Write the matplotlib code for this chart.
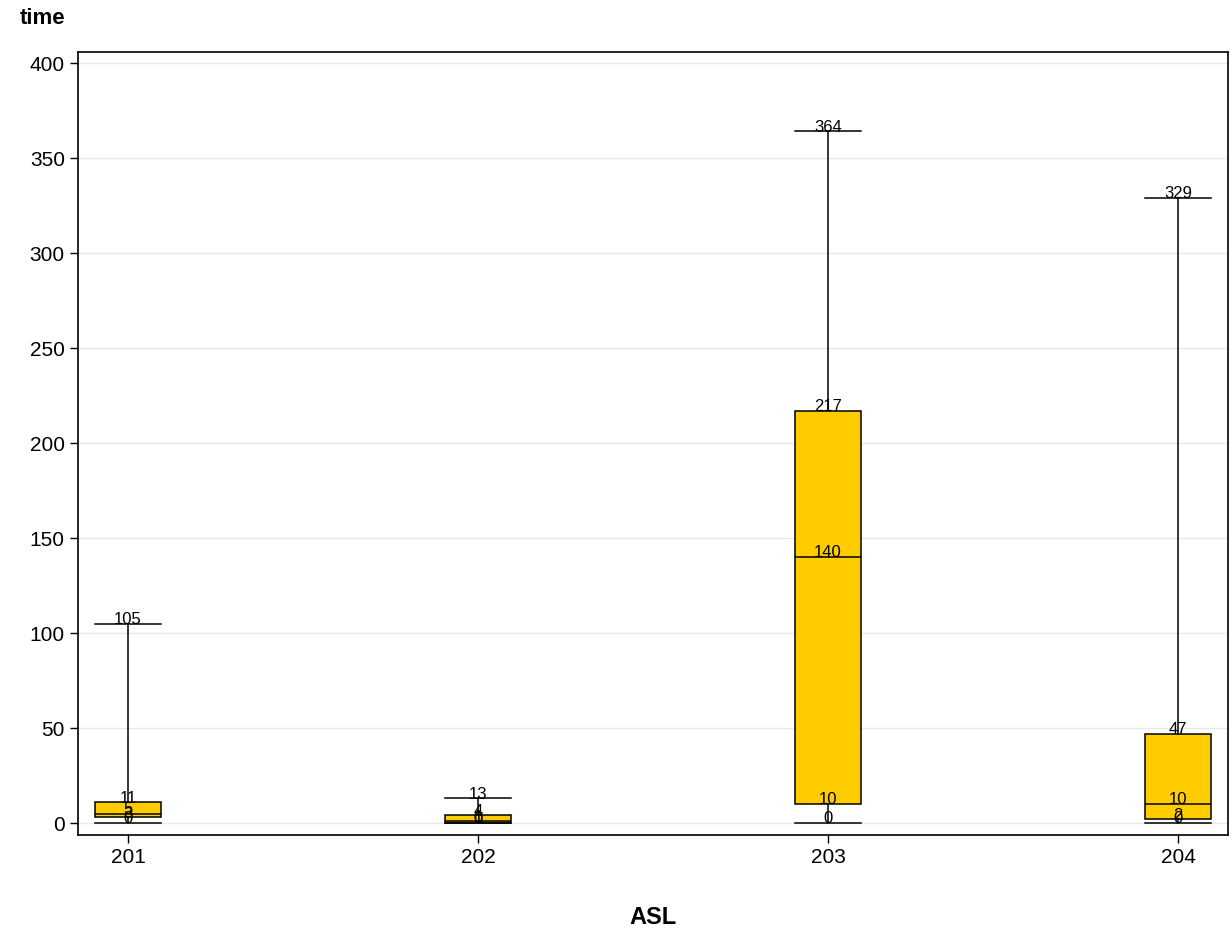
import numpy as np
import matplotlib
matplotlib.use('Agg')
from matplotlib import pyplot as plt

# ---DATA--- #
groups = ['201', '202', '203', '204']
mins = [0, 0, 0, 0]
q1s = [3, 0, 10, 2]
medians = [5, 1, 140, 10]
q3s = [11, 4, 217, 47]
maxs = [105, 13, 364, 329]

plt.rcParams['font.family'] = ['Liberation Sans', 'DejaVu Sans']

fig = plt.figure(figsize=(12.32, 9.33), dpi=100)
ax = fig.add_axes([78 / 1232, 1 - 835 / 933, 1150 / 1232, 783 / 933])

stats = []
for g, lo, a, m, b, hi in zip(groups, mins, q1s, medians, q3s, maxs):
    stats.append(dict(label=g, whislo=lo, q1=a, med=m, q3=b, whishi=hi, fliers=[]))

pos = np.arange(len(groups))
ax.bxp(stats, positions=pos, widths=0.186, patch_artist=True, showfliers=False,
       boxprops=dict(facecolor='#ffcc00', edgecolor='black', linewidth=1.1),
       medianprops=dict(color='black', linewidth=1.1),
       whiskerprops=dict(color='black', linewidth=1.1),
       capprops=dict(color='black', linewidth=1.1),
       capwidths=0.186, zorder=3)

# value labels
for i in range(len(groups)):
    for v in (mins[i], q1s[i], medians[i], q3s[i], maxs[i]):
        ax.text(pos[i], v - 1.8, str(v), ha='center', va='bottom', fontsize=12,
                color='black', zorder=4)

ax.set_xlim(-1 / 7, 3 + 1 / 7)
ax.set_ylim(-6.3, 405.8)
ax.set_yticks(np.arange(0, 401, 50))
ax.set_xticks(pos)
ax.set_xticklabels(groups)
ax.grid(axis='y', color='#e8e8e8', linewidth=1, zorder=0)
ax.set_axisbelow(True)
ax.tick_params(axis='both', labelsize=15, length=6, width=1, direction='out', color='black')
for s in ax.spines.values():
    s.set_linewidth(1.2)

ax.set_xlabel('ASL', fontsize=17, fontweight='bold', labelpad=28)
fig.text(20 / 1232, 1 - 19 / 933, 'time', fontsize=16, fontweight='bold', va='center', ha='left')

fig.savefig('out.png', dpi=100)
